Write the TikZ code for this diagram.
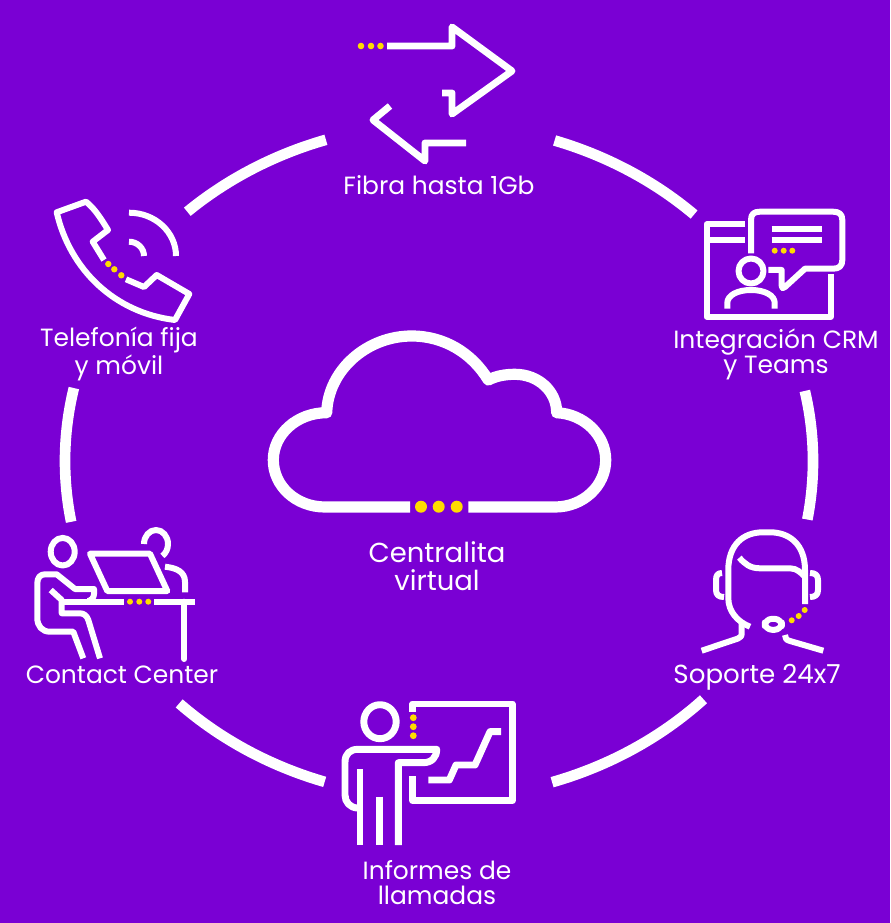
\documentclass[tikz,border=0pt]{standalone}
\usepackage{fontspec}
\setmainfont{Poppins}
\definecolor{bgviolet}{RGB}{122, 0, 212}
\definecolor{dotyellow}{RGB}{255, 220, 0}
\usetikzlibrary{positioning}
\tikzset{
  ringarc/.style={draw=white, line width=8pt},
  iconline/.style={draw=white, line width=5.2pt, line join=round},
  thinline/.style={draw=white, line width=4.5pt, line join=round},
  cloudline/.style={draw=white, line width=8.4pt, line join=round},
  itemlabel/.style={text=white, align=center, inner sep=0pt, font=\fontsize{18.7}{18.8}\selectfont},
  centerlabel/.style={text=white, align=center, inner sep=0pt, font=\fontsize{20.6}{21}\selectfont}
}
\begin{document}
\begin{tikzpicture}[x=0.75pt, y=-0.75pt]
  \useasboundingbox[fill=bgviolet] (0,0) rectangle (890,923);

  % Ring segments
  \foreach \from/\to in {-72/-47, -12/10, 45/72.4, 107.8/134, 169.6/192.5, 227.7/252.4}
    \draw[ringarc] ({439+374*cos(\from)},{461+337*sin(\from)})
      arc[start angle=\from, end angle=\to, x radius=374, y radius=337];

  % Cloud
  \draw[cloudline] (410,507) -- (325,507) .. controls (296,507) and (273.3,486) .. (273.3,460)
    .. controls (273.3,434) and (297,412.7) .. (326.7,412.7)
    .. controls (328,370) and (367,336) .. (411.7,336)
    .. controls (444,336) and (472,353) .. (488.3,380)
    .. controls (496,376) and (505,374.3) .. (515,374.3)
    .. controls (538,374.3) and (556.7,391) .. (556.7,412.7)
    .. controls (584,414) and (605.7,435) .. (605.7,460)
    .. controls (605.7,486) and (583,507) .. (555,507) -- (468.3,507);
  \foreach \x in {421, 438.7, 456.7} \fill[dotyellow] (\x,506.7) circle (6);
  \node[centerlabel] (centralita) at (437,566) {Centralita\\virtual};

  % Fibre arrows
  \draw[iconline] (387,46) -- (452,46) -- (452,27) -- (512,71) -- (452,114) -- (452,93) -- (442,93);
  \draw[iconline] (390,106) -- (373,120) -- (425,161) -- (425,143) -- (466,143);
  \foreach \x in {361, 371, 380.5} \fill[dotyellow] (\x,46) circle (3.3);
  \node[itemlabel] (fibra) at (439,185) {Fibra hasta 1Gb};

  % Phone
  \draw[thinline] (104,260) -- (92.7,241.7) -- (108,230) .. controls (100,217) and (94,208) .. (86,201.7)
    -- (56.7,212.3) .. controls (70,270) and (115,313) .. (175,320) -- (189.3,294) -- (156.7,275) -- (144,287) -- (126,279.3);
  \draw[thinline] (129,212.7) arc[start angle=-90, end angle=0, x radius=47, y radius=43.3];
  \draw[thinline] (129,241.7) arc[start angle=-90, end angle=0, x radius=15, y radius=14.3];
  \foreach \x/\y in {108.3/264, 114.3/269.3, 121.3/275.3} \fill[dotyellow] (\x,\y) circle (3.2);
  \node[itemlabel] (telefonia) at (119,354) {Telefonía fija\\y móvil};

  % CRM window with speech bubble
  \draw[thinline] (745,224.3) -- (706.7,224.3) -- (706.7,316.7) -- (830.7,316.7) -- (830.7,274);
  \draw[thinline] (706.7,240) -- (745,240);
  \draw[thinline] (751,253.3) -- (751,220) .. controls (751,214) and (754,211.7) .. (760,211.7)
    -- (833,211.7) .. controls (839,211.7) and (842.3,214) .. (842.3,220)
    -- (842.3,260) .. controls (842.3,266) and (839,268.7) .. (833,268.7)
    -- (805,268.7) -- (785,287) .. controls (783,289) and (781.7,288.3) .. (781.7,286) -- (781.7,270) -- (768.3,270);
  \draw[thinline] (771.7,229.3) -- (821.7,229.3);
  \draw[thinline] (771.7,240) -- (821.7,240);
  \draw[thinline] (751,271) circle (12.5);
  \draw[thinline] (727.3,308.7) -- (727.3,303) .. controls (727.3,295) and (738,290) .. (751,290)
    .. controls (764,290) and (774.7,295) .. (774.7,303) -- (774.7,308.7);
  \foreach \x in {774.7, 783.7, 792.3} \fill[dotyellow] (\x,250.7) circle (3);
  \node[itemlabel] (crm) at (776,354) {Integración CRM\\y Teams};

  % Headset
  \draw[thinline] (805,604) -- (805,570) .. controls (805,545) and (790,532.3) .. (770,532.3) -- (763,532.3)
    .. controls (743,532.3) and (728.3,545) .. (728.3,570) -- (728.3,598) .. controls (728.3,612) and (738,622) .. (750,626.7);
  \draw[thinline] (741.7,622) -- (741.7,632) .. controls (741.7,636) and (741,637.5) .. (738,638.5) -- (701.7,650.7);
  \draw[thinline] (785,635) .. controls (785,638) and (786,640) .. (790,641) -- (823.3,650.7);
  \draw[thinline] (739.3,557.7) .. controls (745,564) and (750,568.3) .. (760,568.3) -- (790,568.3)
    .. controls (797,568.3) and (801,573) .. (805,576.7);
  \draw[thinline] (722,573) .. controls (718,573) and (716,575) .. (716,580) -- (716,590) .. controls (716,595) and (719,597) .. (724,597);
  \draw[thinline] (810,573) .. controls (815,573) and (818,575) .. (818,580) -- (818,590) .. controls (818,595) and (815,597) .. (810,597);
  \draw[thinline, rounded corners=5.5pt] (764.8,618.8) rectangle (781.8,629.8);
  \foreach \x/\y in {791.7/620.3, 798.7/616, 804.7/610} \fill[dotyellow] (\x,\y) circle (3);
  \node[itemlabel, font=\fontsize{19.6}{18.8}\selectfont] (soporte) at (757,677.5) {Soporte 24x7};

  % Contact center desk
  \draw[thinline] (62.7,551.7) ellipse (12 and 13.8);
  \draw[thinline] (83.3,658.3) -- (73.3,631.7) -- (50,631.7) .. controls (42,631.7) and (37.3,626) .. (37.3,618)
    -- (37.3,583.3) .. controls (37.3,578) and (40,574.3) .. (45,574.3) -- (56.7,574.3) -- (75,589) -- (94,589)
    -- (94,594) .. controls (94,598) and (91,600.5) .. (88,601);
  \draw[thinline] (50.7,590) -- (61.7,600) -- (61.7,613.3) -- (80,613.3) .. controls (84,613.3) and (87,616) .. (88.3,620) -- (100,658.3);
  \draw[thinline] (61.7,601.7) -- (124,601.7);
  \draw[thinline] (154,601.7) -- (195,601.7);
  \draw[thinline, line cap=round] (184.3,601.7) -- (184.3,659);
  \draw[thinline] (90,553.7) -- (150,553.7) -- (167.3,591) -- (107.3,591) -- cycle;
  \draw[thinline] (144,544) arc[start angle=180, end angle=418, x radius=12, y radius=14];
  \draw[thinline] (165,566.7) .. controls (177,568) and (185,572) .. (185,582) -- (185,592.3);
  \foreach \x in {130, 139.3, 148.3} \fill[dotyellow] (\x,601.7) circle (3);
  \node[itemlabel] (contact) at (122,675) {Contact Center};

  % Presenter and chart
  \draw[iconline] (380,721.7) ellipse (16.2 and 17);
  \draw[iconline] (412.7,711.7) -- (412.7,704) -- (512.3,704) -- (512.3,800.7) -- (412.7,800.7) -- (412.7,776);
  \draw[iconline] (428.3,780) -- (449.3,780) -- (456,765) -- (475,765) -- (490,731.7) -- (501,731.7);
  \draw[iconline] (360,808) -- (358,808) .. controls (350,808) and (345,802) .. (345,795) -- (345,762)
    .. controls (345,754) and (350,749.3) .. (358,749.3) -- (436.7,749.3) .. controls (436.7,757) and (432,762.7) .. (423,762.7)
    -- (398.3,762.7) -- (398.3,845);
  \draw[iconline] (360,769.3) -- (360,845);
  \draw[iconline] (379.3,796.7) -- (379.3,845);
  \foreach \y in {717.7, 726.7, 735.7} \fill[dotyellow] (413.3,\y) circle (3.4);
  \node[itemlabel] (informes) at (437,883) {Informes de\\llamadas};
\end{tikzpicture}
\end{document}
